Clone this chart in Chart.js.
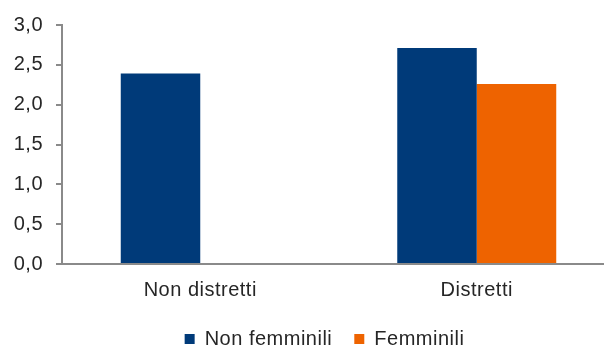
<!DOCTYPE html>
<html>
<head>
<meta charset="utf-8">
<script src="https://cdn.jsdelivr.net/npm/chart.js@4/dist/chart.umd.min.js"></script>
<style>
  html, body { margin: 0; padding: 0; background: #ffffff; overflow: hidden; }
  #wrap { position: absolute; left: 0; top: 0; width: 620px; height: 359px; }
</style>
</head>
<body>
<div id="wrap"><canvas id="c"></canvas></div>
<script>
const categories = ["Non distretti", "Distretti"];
const seriesNames = ["Non femminili", "Femminili"];
const nonFemminili = [2.39, 2.71];
const femminili = [null, 2.26];
const yTicks = [0, 0.5, 1.0, 1.5, 2.0, 2.5, 3.0];

const textColor = '#262626';
const axisColor = '#8a8a8a';
const FONT = 'Liberation Sans, Arial, sans-serif';

const spacingPlugin = {
  id: 'spacing',
  beforeUpdate(chart) { chart.ctx.letterSpacing = '0.5px'; },
  beforeLayout(chart) { chart.ctx.letterSpacing = '0.5px'; },
  afterLayout(chart) {
    const lg = chart.legend;
    if (lg) { lg.left += 17; lg.right += 17; }
  },
  beforeDraw(chart) { chart.ctx.letterSpacing = '0.5px'; }
};

new Chart(document.getElementById('c'), {
  type: 'bar',
  data: {
    labels: categories,
    datasets: [
      { label: seriesNames[0], data: nonFemminili, backgroundColor: '#003a79', borderWidth: 0 },
      { label: seriesNames[1], data: femminili, backgroundColor: '#ee6300', borderWidth: 0 }
    ]
  },
  plugins: [spacingPlugin],
  options: {
    responsive: true,
    maintainAspectRatio: false,
    animation: false,
    layout: { padding: { left: 0, right: 5, top: 11, bottom: 0 } },
    datasets: { bar: { categoryPercentage: 0.575, barPercentage: 1.0 } },
    plugins: {
      tooltip: { enabled: false },
      legend: {
        position: 'bottom',
        labels: {
          boxWidth: 10, boxHeight: 10, padding: 22,
          color: textColor,
          font: { family: FONT, size: 20 }
        }
      }
    },
    scales: {
      x: {
        grid: { display: true, drawOnChartArea: false, drawTicks: false },
        border: { display: true, color: axisColor, width: 2 },
        ticks: { color: textColor, padding: 14, font: { family: FONT, size: 20 } },
        afterFit(scale) { scale.height = 43; }
      },
      y: {
        min: 0, max: 3,
        afterBuildTicks(scale) { scale.ticks = yTicks.map(v => ({ value: v })); },
        grid: { display: true, drawOnChartArea: false, drawTicks: true, tickLength: 6, color: axisColor, lineWidth: 2 },
        border: { display: true, color: axisColor, width: 2 },
        ticks: {
          color: textColor, padding: 13,
          font: { family: FONT, size: 20 },
          callback: (v) => Number(v).toFixed(1).replace('.', ',')
        },
        afterFit(scale) { scale.width = 62; }
      }
    }
  }
});
</script>
</body>
</html>
